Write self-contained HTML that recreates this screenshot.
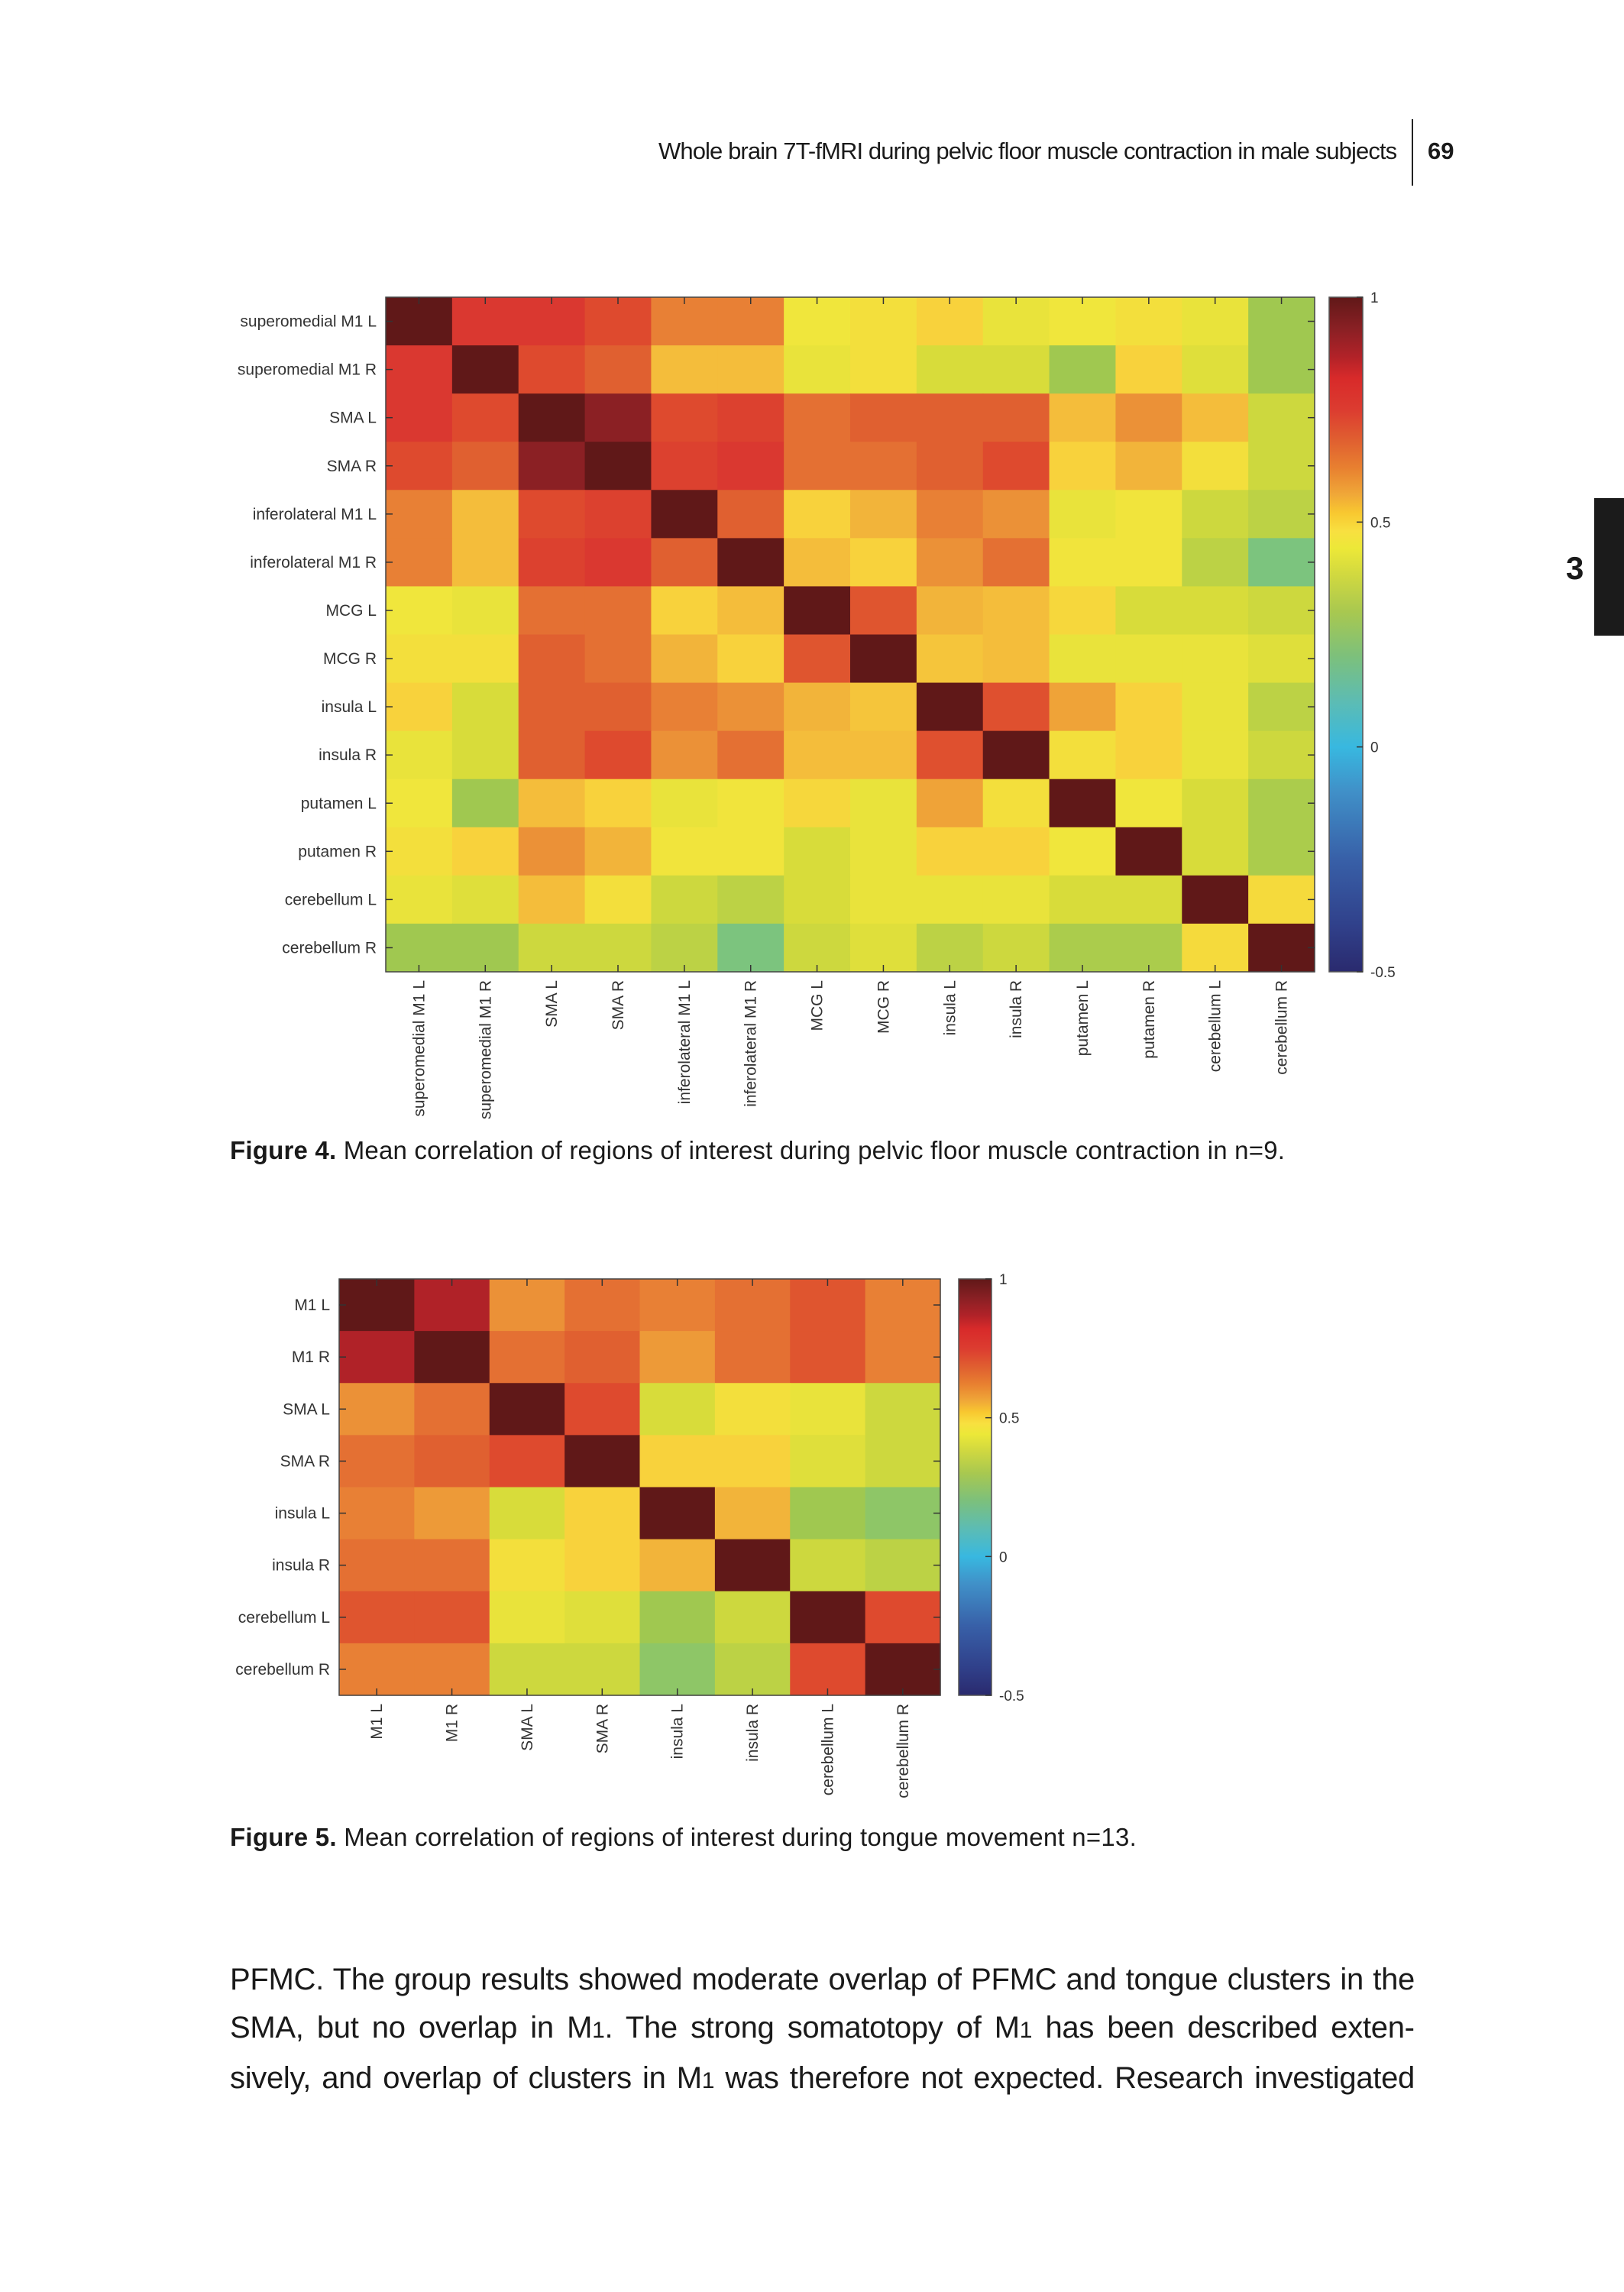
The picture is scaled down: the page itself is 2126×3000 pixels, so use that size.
<!DOCTYPE html>
<html><head><meta charset="utf-8"><style>
body{margin:0;background:#fff;}
.pg{position:relative;width:2126px;height:3000px;overflow:hidden;background:#fff;font-family:"Liberation Sans",sans-serif;}
.t{position:absolute;white-space:nowrap;color:#1a1a1a;}
</style></head><body><div class="pg">
<div class="t" style="left:862px;top:180px;font-size:31px;letter-spacing:-0.9px;">Whole brain 7T-fMRI during pelvic floor muscle contraction in male subjects</div>
<div style="position:absolute;left:1848px;top:156px;width:2px;height:87px;background:#222"></div>
<div class="t" style="left:1869px;top:180px;font-size:31px;font-weight:bold;">69</div>
<div style="position:absolute;left:2087px;top:652px;width:39px;height:180px;background:#1b1b1b"></div>
<div class="t" style="left:2050px;top:720px;font-size:42px;font-weight:bold;">3</div>
<svg id="s" width="2126" height="3000" style="position:absolute;left:0;top:0" xmlns="http://www.w3.org/2000/svg">
<defs><linearGradient id="cb" x1="0" y1="0" x2="0" y2="1">
<stop offset="0" stop-color="#601818"/><stop offset="0.047" stop-color="#8a2024"/><stop offset="0.087" stop-color="#b02228"/><stop offset="0.12" stop-color="#d82a2a"/><stop offset="0.167" stop-color="#dc3c30"/><stop offset="0.213" stop-color="#e06030"/><stop offset="0.253" stop-color="#e88030"/><stop offset="0.293" stop-color="#f0a838"/><stop offset="0.32" stop-color="#f8c830"/><stop offset="0.347" stop-color="#f8e040"/><stop offset="0.373" stop-color="#ece838"/><stop offset="0.413" stop-color="#d0d840"/><stop offset="0.467" stop-color="#a8c850"/><stop offset="0.533" stop-color="#7cc07c"/><stop offset="0.6" stop-color="#5cbcb4"/><stop offset="0.667" stop-color="#38b8e0"/><stop offset="0.733" stop-color="#4090c8"/><stop offset="0.833" stop-color="#3860a8"/><stop offset="0.933" stop-color="#30408a"/><stop offset="1" stop-color="#2a2a6e"/>
</linearGradient></defs>
</svg>
<div class="t" style="left:301px;top:1487px;font-size:33px;letter-spacing:0.2px;"><b>Figure 4.</b> Mean correlation of regions of interest during pelvic floor muscle contraction in n=9.</div>
<div class="t" style="left:301px;top:2386px;font-size:33px;letter-spacing:0.25px;"><b>Figure 5.</b> Mean correlation of regions of interest during tongue movement n=13.</div>
<div style="position:absolute;left:301px;top:2560px;width:1551px;font-size:40px;line-height:63px;text-align:justify;text-align-last:justify;color:#1a1a1a;letter-spacing:-0.3px;">PFMC. The group results showed moderate overlap of PFMC and tongue clusters in the SMA, but no overlap in M<span style="font-size:30px">1</span>. The strong somatotopy of M<span style="font-size:30px">1</span> has been described exten&shy;sively, and overlap of clusters in M<span style="font-size:30px">1</span> was therefore not expected. Research investigated</div>
</div>
<script>
var stops=[[-0.5,[42,42,110]],[-0.3,[48,80,160]],[-0.1,[58,128,200]],[0,[64,184,224]],[0.1,[80,192,176]],[0.2,[124,196,126]],[0.3,[160,200,80]],[0.4,[216,220,58]],[0.47,[240,230,60]],[0.55,[248,210,60]],[0.62,[242,180,58]],[0.68,[232,128,53]],[0.72,[224,96,48]],[0.76,[222,74,46]],[0.8,[218,56,48]],[0.86,[176,34,40]],[0.92,[139,32,36]],[1,[96,24,24]]];
function col(v){for(var i=1;i<stops.length;i++){if(v<=stops[i][0]){var a=stops[i-1],b=stops[i],t=(v-a[0])/(b[0]-a[0]);var c=a[1].map(function(x,k){return Math.round(x+(b[1][k]-x)*t)});return 'rgb('+c.join(',')+')';}}return 'rgb(96,24,24)';}
var M1=[[1,.8,.8,.76,.68,.68,.47,.5,.55,.45,.47,.5,.45,.3],
[.8,1,.76,.72,.6,.6,.45,.5,.4,.4,.3,.55,.42,.3],
[.8,.76,1,.92,.76,.78,.7,.72,.72,.72,.6,.66,.6,.38],
[.76,.72,.92,1,.78,.8,.7,.7,.72,.76,.55,.62,.5,.38],
[.68,.6,.76,.78,1,.72,.55,.62,.68,.66,.45,.48,.38,.35],
[.68,.6,.78,.8,.72,1,.6,.55,.66,.7,.48,.48,.35,.2],
[.47,.45,.7,.7,.55,.6,1,.74,.62,.6,.53,.4,.4,.38],
[.5,.5,.72,.7,.62,.55,.74,1,.58,.6,.45,.45,.45,.42],
[.55,.4,.72,.72,.68,.66,.62,.58,1,.75,.64,.55,.45,.35],
[.45,.4,.72,.76,.66,.7,.6,.6,.75,1,.5,.55,.45,.38],
[.47,.3,.6,.55,.45,.48,.53,.45,.64,.5,1,.47,.4,.32],
[.5,.55,.66,.62,.48,.48,.4,.45,.55,.55,.47,1,.4,.32],
[.45,.42,.6,.5,.38,.35,.4,.45,.45,.45,.4,.4,1,.52],
[.3,.3,.38,.38,.35,.2,.38,.42,.35,.38,.32,.32,.52,1]];
var L1=["superomedial M1 L","superomedial M1 R","SMA L","SMA R","inferolateral M1 L","inferolateral M1 R","MCG L","MCG R","insula L","insula R","putamen L","putamen R","cerebellum L","cerebellum R"];
var M2=[[1,.86,.66,.7,.68,.7,.74,.68],[.86,1,.7,.72,.65,.7,.74,.68],[.66,.7,1,.76,.4,.5,.45,.38],[.7,.72,.76,1,.55,.55,.42,.38],[.68,.65,.4,.55,1,.62,.3,.25],[.7,.7,.5,.55,.62,1,.38,.35],[.74,.74,.45,.42,.3,.38,1,.76],[.68,.68,.38,.38,.25,.35,.76,1]];
var L2=["M1 L","M1 R","SMA L","SMA R","insula L","insula R","cerebellum L","cerebellum R"];
var s=document.getElementById('s'),h='';
function hm(M,L,x0,y0,x1,y1,cx0,cx1){var n=M.length,w=(x1-x0)/n,hh=(y1-y0)/n;
for(var r=0;r<n;r++)for(var c=0;c<n;c++)h+='<rect x="'+(x0+c*w)+'" y="'+(y0+r*hh)+'" width="'+(w+0.6)+'" height="'+(hh+0.6)+'" fill="'+col(M[r][c])+'"/>';
h+='<rect x="'+x0+'" y="'+y0+'" width="'+(x1-x0)+'" height="'+(y1-y0)+'" fill="none" stroke="#444" stroke-width="1.5"/>';
for(var i=0;i<n;i++){var cx=x0+(i+.5)*w,cy=y0+(i+.5)*hh;
h+='<line x1="'+cx+'" y1="'+y0+'" x2="'+cx+'" y2="'+(y0+9)+'" stroke="#333" stroke-width="1.5"/><line x1="'+cx+'" y1="'+y1+'" x2="'+cx+'" y2="'+(y1-9)+'" stroke="#333" stroke-width="1.5"/>';
h+='<line x1="'+x0+'" y1="'+cy+'" x2="'+(x0+9)+'" y2="'+cy+'" stroke="#333" stroke-width="1.5"/><line x1="'+x1+'" y1="'+cy+'" x2="'+(x1-9)+'" y2="'+cy+'" stroke="#333" stroke-width="1.5"/>';
h+='<text x="'+(x0-12)+'" y="'+(cy+7)+'" text-anchor="end" font-size="21" fill="#333" font-family="Liberation Sans, sans-serif">'+L[i]+'</text>';
h+='<text transform="translate('+(cx+7)+','+(y1+11)+') rotate(-90)" text-anchor="end" font-size="21" fill="#333" font-family="Liberation Sans, sans-serif">'+L[i]+'</text>';}
h+='<rect x="'+cx0+'" y="'+y0+'" width="'+(cx1-cx0)+'" height="'+(y1-y0)+'" fill="url(#cb)" stroke="#555" stroke-width="1.5"/>';
var tk=[[1,'1'],[0.5,'0.5'],[0,'0'],[-0.5,'-0.5']];
tk.forEach(function(t){var y=y0+(1-t[0])/1.5*(y1-y0);h+='<line x1="'+(cx1-8)+'" y1="'+y+'" x2="'+cx1+'" y2="'+y+'" stroke="#333" stroke-width="1.5"/><text x="'+(cx1+10)+'" y="'+(y+7)+'" font-size="19" fill="#333" font-family="Liberation Sans, sans-serif">'+t[1]+'</text>';});}
hm(M1,L1,505,389,1721,1272,1740,1784);
hm(M2,L2,444,1674,1231,2219,1255,1298);
s.insertAdjacentHTML('beforeend',h);
</script>
</body></html>
